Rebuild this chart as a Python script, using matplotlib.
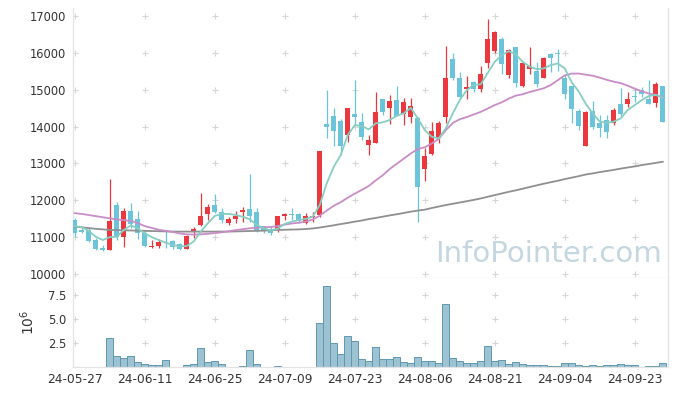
import matplotlib

matplotlib.use("Agg")
import matplotlib.pyplot as plt
import numpy as np
import pandas as pd

# trading days (KRX holidays removed)
HOLIDAYS = ["2024-06-06", "2024-08-15", "2024-09-16", "2024-09-17", "2024-09-18"]
dates = pd.bdate_range("2024-05-27", "2024-09-27", freq="C", holidays=HOLIDAYS)

opens = [11460, 11190, 11190, 10920, 10700, 10650, 11870, 11010, 11720, 11480,
         11120, 10720, 10760, 11160, 10900, 10800, 10680, 11130, 11330, 11620,
         11880, 11690, 11390, 11490, 11670, 11760, 11670, 11290, 11210, 11190,
         11580, 11620, 11620, 11390, 11540, 11600, 14070, 14290, 14150, 13770,
         14330, 14120, 13500, 13550, 14750, 14510, 14720, 14330, 14250, 14240,
         12850, 13250, 13680, 14270, 15830, 15330, 15020, 15200, 15010, 15740,
         16060, 16390, 15400, 16160, 15110, 15560, 15510, 15330, 15960, 16000,
         15310, 15100, 14430, 13480, 14420, 14090, 14180, 14090, 14610, 14620,
         14840, 14990, 14750, 14630, 15100]
highs = [11510, 11240, 11270, 10970, 10790, 12580, 11950, 11780, 11920, 11720,
         11190, 10920, 10950, 11170, 10920, 10830, 11060, 11270, 12190, 11890,
         12170, 11780, 11540, 11710, 11830, 12710, 11780, 11300, 11290, 11560,
         11650, 11780, 11650, 11650, 11670, 13340, 14990, 14500, 14220, 14500,
         15260, 14360, 13770, 14950, 14750, 14860, 15110, 14780, 14770, 14270,
         13410, 14130, 14150, 16190, 15990, 15490, 15380, 15240, 15650, 16920,
         16590, 16440, 16120, 16160, 15760, 16150, 15760, 15900, 16010, 16100,
         15420, 15100, 14480, 14420, 14690, 14310, 14310, 14510, 15040, 14930,
         15060, 15080, 15260, 15200, 15100]
lows = [11010, 11100, 10880, 10650, 10630, 10650, 10920, 10720, 11240, 10950,
        10740, 10700, 10710, 10700, 10670, 10660, 10670, 10970, 11300, 11460,
        11650, 11390, 11330, 11380, 11420, 11420, 11150, 11100, 11060, 11150,
        11470, 11470, 11390, 11360, 11420, 11540, 13680, 13470, 13230, 13590,
        14040, 13640, 13230, 13550, 14310, 14060, 14300, 14040, 14090, 11420,
        12520, 13230, 13560, 14090, 15260, 14770, 14750, 14930, 14930, 15600,
        15990, 15440, 15310, 15080, 15080, 15440, 15080, 15310, 15470, 15510,
        14740, 14090, 13910, 13480, 13930, 13730, 13680, 14040, 14270, 14520,
        14660, 14810, 14610, 14540, 14130]
closes = [11100, 11140, 10900, 10680, 10650, 11440, 11010, 11710, 11350, 11100,
          10770, 10760, 10880, 11130, 10720, 10680, 11030, 11220, 11570, 11810,
          11690, 11470, 11490, 11560, 11740, 11560, 11190, 11190, 11120, 11560,
          11630, 11610, 11450, 11560, 11580, 13340, 14000, 13890, 13470, 14500,
          14270, 13730, 13640, 14390, 14400, 14690, 14300, 14660, 14570, 12370,
          13200, 13880, 14090, 15310, 15310, 14810, 15080, 15010, 15420, 16380,
          16560, 15700, 16080, 15190, 15720, 15640, 15160, 15850, 15870, 15970,
          14880, 14480, 14030, 14400, 14000, 13970, 13860, 14450, 14340, 14750,
          14810, 14880, 14610, 15150, 14130]
# volume, millions of shares
volumes = [0.05, 0.05, 0.05, 0.05, 0.05, 3.06, 1.19, 0.91, 1.19, 0.49,
           0.28, 0.18, 0.18, 0.70, 0.04, 0.04, 0.18, 0.28, 2.02, 0.49,
           0.59, 0.28, 0.04, 0.04, 0.14, 1.81, 0.28, 0.04, 0.04, 0.14,
           0.04, 0.04, 0.04, 0.04, 0.04, 4.62, 8.41, 2.44, 1.40, 3.27,
           2.75, 0.88, 0.66, 2.12, 0.88, 0.88, 1.08, 0.56, 0.45, 1.08,
           0.66, 0.66, 0.45, 6.50, 0.98, 0.66, 0.45, 0.45, 0.66, 2.22,
           0.66, 0.77, 0.35, 0.56, 0.35, 0.25, 0.25, 0.25, 0.14, 0.14,
           0.45, 0.45, 0.25, 0.14, 0.25, 0.14, 0.25, 0.25, 0.35, 0.25,
           0.25, 0.04, 0.14, 0.14, 0.45]
# moving averages as drawn on the chart
ma5 = [11300, 11270, 11170, 11010, 10920, 11000, 11010, 11190, 11320, 11240,
       11100, 11000, 10920, 10850, 10790, 10745, 10760, 10880, 11150, 11375,
       11575, 11630, 11630, 11600, 11555, 11485, 11330, 11240, 11180, 11230,
       11360, 11420, 11465, 11495, 11555, 11870, 12460, 12910, 13230, 13770,
       14040, 14015, 13925, 14090, 14115, 14180, 14295, 14360, 14510, 14225,
       13905, 13725, 13680, 13950, 14360, 14720, 14990, 15130, 15150, 15460,
       15760, 15940, 16050, 15960, 15760, 15625, 15560, 15580, 15670, 15715,
       15580, 15200, 14950, 14620, 14360, 14135, 14105, 14135, 14225, 14450,
       14585, 14720, 14830, 14860, 14795]
ma20 = [11650, 11630, 11600, 11570, 11540, 11510, 11480, 11460, 11440, 11380,
        11300, 11250, 11200, 11170, 11140, 11100, 11075, 11070, 11075, 11090,
        11110, 11130, 11160, 11190, 11215, 11240, 11255, 11265, 11275, 11300,
        11340, 11370, 11390, 11420, 11480, 11580, 11720, 11850, 11950, 12070,
        12180, 12280, 12390, 12540, 12680, 12850, 12990, 13130, 13270, 13390,
        13440, 13540, 13670, 13900, 14100, 14200, 14260, 14330, 14400, 14490,
        14585, 14660, 14760, 14840, 14880, 14940, 14990, 15040, 15130, 15260,
        15390, 15440, 15440, 15410, 15380, 15330, 15270, 15220, 15180, 15110,
        15030, 14960, 14900, 14860, 14800]
ma60 = [11285, 11265, 11245, 11225, 11210, 11195, 11190, 11185, 11180, 11175,
        11170, 11165, 11160, 11155, 11150, 11150, 11150, 11150, 11150, 11150,
        11150, 11150, 11150, 11155, 11160, 11165, 11170, 11175, 11185, 11195,
        11200, 11205, 11210, 11220, 11235, 11260, 11290, 11320, 11355, 11385,
        11420, 11450, 11490, 11520, 11555, 11590, 11620, 11655, 11690, 11720,
        11745, 11790, 11830, 11870, 11905, 11940, 11975, 12010, 12050, 12095,
        12140, 12185, 12230, 12270, 12315, 12360, 12405, 12450, 12490, 12530,
        12575, 12615, 12655, 12700, 12730, 12765, 12795, 12825, 12860, 12890,
        12920, 12955, 12985, 13015, 13045]
price_ticks = [10000, 11000, 12000, 13000, 14000, 15000, 16000, 17000]
vol_ticks = [2.5, 5.0, 7.5]

RED = "#eb383e"
BLUE = "#6cc4da"
TEAL = "#86cdc2"
PURPLE = "#c88cc6"
GRAY = "#8f8f8f"
GRID = "#d6d6d6"
EDGE = "#e3e3e3"
TXT = "#333333"


def main():
    o, h, l, c = (np.array(a, float) for a in (opens, highs, lows, closes))
    x = np.arange(len(c))
    cols = np.where(c >= o, RED, BLUE)

    W, H = 677, 396
    fig = plt.figure(figsize=(W / 100, H / 100), dpi=100)
    ax = fig.add_axes([73 / W, (H - 278) / H, 595 / W, 270 / H])
    axv = fig.add_axes([73 / W, (H - 367) / H, 595 / W, 89 / H], sharex=ax)

    tick_idx = list(range(0, len(x), 10))

    # grid shown as small plus marks at the intersections
    gx, gy = np.meshgrid(tick_idx, price_ticks)
    ax.scatter(gx.ravel(), gy.ravel(), marker="+", s=22, color=GRID, lw=0.8, zorder=0)
    gx, gy = np.meshgrid(tick_idx, vol_ticks)
    axv.scatter(gx.ravel(), gy.ravel(), marker="+", s=22, color=GRID, lw=0.8, zorder=0)

    # candles
    ax.vlines(x, l, h, colors=cols, lw=0.9, zorder=2)
    ax.bar(x, np.maximum(np.abs(c - o), 18), bottom=np.minimum(o, c), width=0.72,
           color=cols, lw=0, zorder=3)

    ax.plot(x, ma60, color=GRAY, lw=1.3, zorder=4)
    ax.plot(x, ma20, color=PURPLE, lw=1.3, zorder=4)
    ax.plot(x, ma5, color=TEAL, lw=1.3, zorder=4)

    ax.text(0.99, 0.088, "InfoPointer.com", transform=ax.transAxes, ha="right",
            va="center", fontsize=21, color="#c4d6e0", zorder=1)

    # volume
    axv.bar(x, volumes, width=0.95, color="#9dc2d2", edgecolor="#5f98b3", lw=0.7, zorder=2)

    ax.set_xlim(-0.25, 84.75)
    ax.set_ylim(9890, 17220)
    axv.set_ylim(0, 9.24)

    ax.set_yticks(price_ticks)
    ax.set_yticklabels([str(v) for v in price_ticks])
    axv.set_yticks(vol_ticks)
    axv.set_yticklabels([f"{v:.1f}" for v in vol_ticks])
    axv.set_xticks(tick_idx)
    axv.set_xticklabels([dates[i].strftime("%y-%m-%d") for i in tick_idx])
    axv.set_ylabel(r"$10^{6}$", fontsize=10, color=TXT, labelpad=8)

    ax.tick_params(axis="x", labelbottom=False, length=0)
    ax.tick_params(axis="y", length=0, pad=5, labelsize=8.3, labelcolor=TXT)
    axv.tick_params(axis="y", length=0, pad=5, labelsize=8.3, labelcolor=TXT)
    axv.tick_params(axis="x", length=0, pad=4, labelsize=8.8, labelcolor=TXT)

    for a in (ax, axv):
        for side in ("left", "right", "bottom"):
            a.spines[side].set_color(EDGE)
            a.spines[side].set_linewidth(0.9)
        a.spines["top"].set_visible(False)

    fig.savefig("out.png", dpi=100)


if __name__ == "__main__":
    main()
